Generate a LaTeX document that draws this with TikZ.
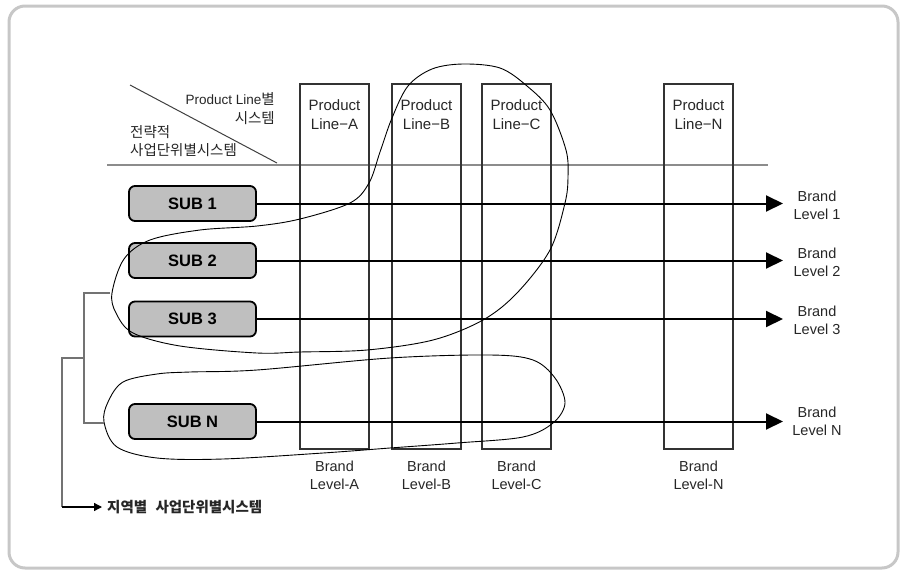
\documentclass[tikz,border=0pt]{standalone}
\usepackage{fontspec}
\setmainfont{Liberation Sans}
\newfontfamily\kr{Noto Sans CJK KR}
\usetikzlibrary{arrows.meta}
\tikzset{
  frame/.style={draw=black!22, line width=3pt, rounded corners=16pt},
  subbox/.style={draw=black, line width=1.8pt, fill=black!25, rounded corners=6pt,
    minimum width=127pt, minimum height=35pt, inner sep=0pt,
    font=\fontsize{16.5}{19}\selectfont\bfseries},
  column/.style={draw=black!80, line width=1.2pt, minimum width=69pt, minimum height=365pt, inner sep=0pt},
  plabel/.style={align=center, inner sep=0pt, font=\fontsize{15}{19}\selectfont, text=black!85},
  blabel/.style={align=center, inner sep=0pt, font=\fontsize{14.5}{18}\selectfont, text=black!85},
  krlabel/.style={inner sep=0pt, font=\fontsize{14.5}{16}\selectfont, text=black!85},
  arr/.style={line width=2pt, -{Triangle[length=17pt,width=16pt]}},
  tree/.style={draw=black!55, line width=1.3pt},
  loop/.style={draw=black, line width=0.9pt},
}
\begin{document}
\begin{tikzpicture}[x=1pt,y=-1pt]
\useasboundingbox (0,0) rectangle (903,573);
\draw[frame] (9,6) rectangle (898,568);

% header
\coordinate (hl) at (107,165);
\coordinate (hr) at (768,165);
\draw[draw=black!45, line width=1.3pt] (hl) -- (hr);
\coordinate (d1) at (130,85);
\coordinate (d2) at (277,163);
\draw[draw=black!75, line width=1pt] (d1) -- (d2);
\node[krlabel, anchor=east] (h1) at (275,99) {\fontsize{13.5}{15}\selectfont Product Line{\kr\fontsize{14.5}{15}\selectfont 별}};
\node[krlabel, anchor=east] (h2) at (275,118) {\kr 시스템};
\node[krlabel, anchor=west] (h3) at (130,132) {\kr 전략적};
\node[krlabel, anchor=west] (h4) at (130,150) {\kr 사업단위별시스템};

% columns
\node[column] (ca) at (334.5,266.5) {};
\node[column] (cb) at (426.5,266.5) {};
\node[column] (cc) at (516.5,266.5) {};
\node[column] (cn) at (698.5,266.5) {};
\node[plabel] (pa) at (334.5,114.5) {Product\\Line−A};
\node[plabel] (pb) at (426.5,114.5) {Product\\Line−B};
\node[plabel] (pc) at (516.5,114.5) {Product\\Line−C};
\node[plabel] (pn) at (698.5,114.5) {Product\\Line−N};
\node[blabel] (la) at (334.5,475) {Brand\\Level-A};
\node[blabel] (lb) at (426.5,475) {Brand\\Level-B};
\node[blabel] (lc) at (516.5,475) {Brand\\Level-C};
\node[blabel] (ln) at (698.5,475) {Brand\\Level-N};

% SUB boxes
\node[subbox] (s1) at (192.5,203.5) {SUB 1};
\node[subbox] (s2) at (192.5,260.5) {SUB 2};
\node[subbox] (s3) at (192.5,319) {SUB 3};
\node[subbox] (sn) at (192.5,421.5) {SUB N};

% arrows
\coordinate (t1) at (783,203.5);
\coordinate (t2) at (783,260.5);
\coordinate (t3) at (783,319);
\coordinate (tn) at (783,421.5);
\draw[arr] (s1.east) -- (t1);
\draw[arr] (s2.east) -- (t2);
\draw[arr] (s3.east) -- (t3);
\draw[arr] (sn.east) -- (tn);
\node[blabel] (b1) at (817,205) {Brand\\Level 1};
\node[blabel] (b2) at (817,262) {Brand\\Level 2};
\node[blabel] (b3) at (817,320) {Brand\\Level 3};
\node[blabel] (bn) at (817,421) {Brand\\Level N};

% loops
\draw[loop] plot[smooth cycle, tension=0.55] coordinates {
 (112,293) (124,259) (150,240) (200,230) (257,226) (300,219) (350,203) (369,183)
 (380,152) (392,118) (408,86) (432,69) (463,64) (500,68) (527,86) (550,110)
 (566,150) (568,177) (565,203) (550,250) (517,293) (483,320) (433,340) (367,350)
 (300,352) (257,353) (180,346) (133,333) (116,313)};
\draw[loop] plot[smooth cycle, tension=0.55] coordinates {
 (104,422) (108,402) (123,382) (157,374) (190,372) (257,370) (390,358) (490,355)
 (533,360) (555,378) (565,403) (553,423) (523,437) (457,443) (390,448) (323,453)
 (223,459) (157,458) (117,447)};

% tree
\coordinate (e1) at (110,293);
\coordinate (k1) at (84,293);
\coordinate (k2) at (84,423);
\coordinate (e2) at (104,423);
\coordinate (k3) at (84,358);
\coordinate (k4) at (62,358);
\coordinate (k5) at (62,507);
\draw[tree] (e1) -- (k1) -- (k2) -- (e2);
\draw[tree] (k3) -- (k4) -- (k5);
\node[krlabel, anchor=west] (reg) at (107,507) {\kr\bfseries 지역별\hspace{5pt} 사업단위별시스템};
\draw[draw=black, line width=1.3pt, shorten >=5pt, -{Triangle[length=8pt,width=8pt]}] (k5) -- (reg.west);
\end{tikzpicture}
\end{document}
